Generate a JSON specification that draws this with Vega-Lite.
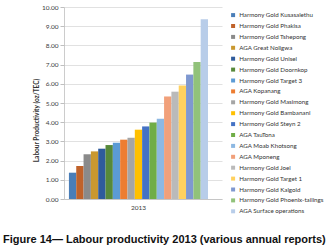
{
  "$schema": "https://vega.github.io/schema/vega-lite/v6.json",
  "width": 158,
  "height": 192,
  "autosize": {"type": "none"},
  "padding": {"left": 64, "top": 7, "right": 111, "bottom": 51},
  "background": "white",
  "title": {
    "text": "Figure 14\u2014 Labour productivity 2013 (various annual reports)",
    "orient": "bottom",
    "anchor": "start",
    "frame": "group",
    "dx": -61,
    "offset": 19,
    "font": "Liberation Sans",
    "fontSize": 11,
    "fontWeight": "bold",
    "color": "#111111"
  },
  "data": {
    "values": [
      {"year": "2013", "order": 1, "mine": "Harmony Gold Kusasalethu", "value": 1.37},
      {"year": "2013", "order": 2, "mine": "Harmony Gold Phakisa", "value": 1.72},
      {"year": "2013", "order": 3, "mine": "Harmony Gold Tshepong", "value": 2.33},
      {"year": "2013", "order": 4, "mine": "AGA Great Noligwa", "value": 2.48},
      {"year": "2013", "order": 5, "mine": "Harmony Gold Unisel", "value": 2.62},
      {"year": "2013", "order": 6, "mine": "Harmony Gold Doornkop", "value": 2.81},
      {"year": "2013", "order": 7, "mine": "Harmony Gold Target 3", "value": 2.93},
      {"year": "2013", "order": 8, "mine": "AGA Kopanang", "value": 3.09},
      {"year": "2013", "order": 9, "mine": "Harmony Gold Masimong", "value": 3.19},
      {"year": "2013", "order": 10, "mine": "Harmony Gold Bambanani", "value": 3.61},
      {"year": "2013", "order": 11, "mine": "Harmony Gold Steyn 2", "value": 3.78},
      {"year": "2013", "order": 12, "mine": "AGA TauTona", "value": 3.98},
      {"year": "2013", "order": 13, "mine": "AGA Moab Khotsong", "value": 4.18},
      {"year": "2013", "order": 14, "mine": "AGA Mponeng", "value": 5.34},
      {"year": "2013", "order": 15, "mine": "Harmony Gold Joel", "value": 5.59},
      {"year": "2013", "order": 16, "mine": "Harmony Gold Target 1", "value": 5.91},
      {"year": "2013", "order": 17, "mine": "Harmony Gold Kalgold", "value": 6.48},
      {"year": "2013", "order": 18, "mine": "Harmony Gold Phoenix-tailings", "value": 7.14},
      {"year": "2013", "order": 19, "mine": "AGA Surface operations", "value": 9.36}
    ]
  },
  "mark": {"type": "bar"},
  "encoding": {
    "x": {
      "field": "year",
      "type": "nominal",
      "scale": {"paddingInner": 0, "paddingOuter": 0.068, "align": 0.26},
      "axis": {
        "title": null,
        "labelAngle": 0,
        "labelFont": "Lato",
        "labelFontSize": 6.5,
        "labelColor": "#404040",
        "labelPadding": 5,
        "ticks": false,
        "domainColor": "#bfbfbf",
        "domainWidth": 0.8
      }
    },
    "xOffset": {
      "field": "mine",
      "type": "nominal",
      "sort": {"field": "order"},
      "scale": {"paddingInner": 0, "paddingOuter": 0}
    },
    "y": {
      "field": "value",
      "type": "quantitative",
      "scale": {"domain": [0, 10], "nice": false},
      "axis": {
        "title": "Labour Productivity (oz/TEC)",
        "titleFont": "Lato",
        "titleFontSize": 6.5,
        "titleFontWeight": "bold",
        "titleColor": "#333333",
        "titlePadding": 2,
        "titleY": 113,
        "values": [0, 1, 2, 3, 4, 5, 6, 7, 8, 9, 10],
        "format": ".2f",
        "labelFont": "Lato",
        "labelFontSize": 6.5,
        "labelColor": "#404040",
        "labelPadding": 2,
        "tickSize": 4,
        "tickColor": "#bfbfbf",
        "domainColor": "#bfbfbf",
        "domainWidth": 0.8,
        "gridColor": "#d9d9d9",
        "gridWidth": 0.8
      }
    },
    "color": {
      "field": "mine",
      "type": "nominal",
      "sort": {"field": "order"},
      "scale": {
        "domain": ["Harmony Gold Kusasalethu", "Harmony Gold Phakisa", "Harmony Gold Tshepong", "AGA Great Noligwa", "Harmony Gold Unisel", "Harmony Gold Doornkop", "Harmony Gold Target 3", "AGA Kopanang", "Harmony Gold Masimong", "Harmony Gold Bambanani", "Harmony Gold Steyn 2", "AGA TauTona", "AGA Moab Khotsong", "AGA Mponeng", "Harmony Gold Joel", "Harmony Gold Target 1", "Harmony Gold Kalgold", "Harmony Gold Phoenix-tailings", "AGA Surface operations"],
        "range": ["#4a7eb8", "#c0622a", "#8a8a8a", "#c9982f", "#2f5b9c", "#57893a", "#5b9bd5", "#ed7d31", "#a5a5a5", "#ffc000", "#4472c4", "#70ad47", "#8db8e2", "#f1a07a", "#bababa", "#ffd15e", "#7f98d0", "#91c27a", "#b8cde9"]
      },
      "legend": {
        "orient": "none",
        "legendX": 166,
        "legendY": 5,
        "title": null,
        "symbolType": "square",
        "symbolSize": 16,
        "symbolStrokeWidth": 0,
        "labelFont": "Lato",
        "labelFontSize": 6.2,
        "labelColor": "#333333",
        "labelOffset": 3,
        "rowPadding": 3.9,
        "labelLimit": 200
      }
    }
  },
  "config": {
    "view": {"stroke": null},
    "bar": {"continuousBandSize": 7}
  }
}
